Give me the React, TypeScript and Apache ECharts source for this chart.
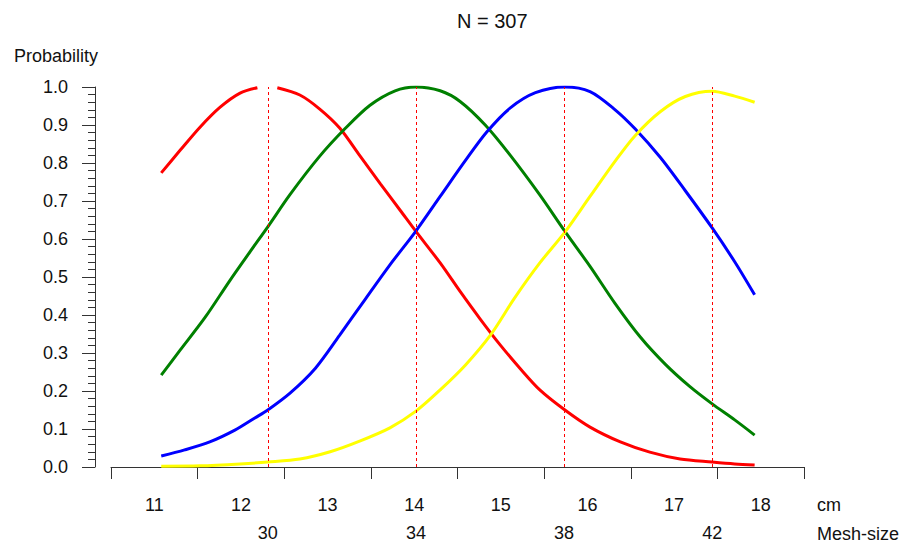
import React, { useEffect, useRef } from "react";
import * as echarts from "echarts";

// ---- data (x in cm, y = retention probability) ----
const cmTickBounds = [10.5, 11.5, 12.5, 13.5, 14.5, 15.5, 16.5, 17.5, 18.5];
const cmLabels = [11, 12, 13, 14, 15, 16, 17, 18];
const meshPeaksCm = [12.31, 14.02, 15.73, 17.44];
const meshSizes = ["30", "34", "38", "42"];
const yTicks = { min: 0, max: 1, interval: 0.1 };
const titleText = "N = 307";

const red30: (number | null)[][] = [
  [11.08, 0.774], [11.3, 0.834], [11.53, 0.895], [11.76, 0.947], [11.99, 0.984], [12.19, 0.998],
  [12.31, null],
  [12.42, 0.998], [12.68, 0.979], [12.91, 0.942], [13.14, 0.892], [13.37, 0.82], [13.61, 0.745],
  [13.84, 0.675], [14.02, 0.62], [14.3, 0.537], [14.53, 0.462], [14.76, 0.39], [14.99, 0.322],
  [15.22, 0.26], [15.45, 0.203], [15.74, 0.15], [16.03, 0.105], [16.38, 0.066], [16.72, 0.039],
  [17.07, 0.021], [17.44, 0.013], [17.7, 0.008], [17.93, 0.005],
];
const green34: number[][] = [
  [11.08, 0.242], [11.3, 0.308], [11.59, 0.395], [11.87, 0.49], [12.11, 0.568], [12.31, 0.632],
  [12.57, 0.718], [12.91, 0.818], [13.2, 0.89], [13.49, 0.952], [13.78, 0.99], [14.02, 1.0],
  [14.3, 0.99], [14.53, 0.962], [14.82, 0.9], [15.11, 0.82], [15.45, 0.716], [15.74, 0.62],
  [16.03, 0.528], [16.32, 0.43], [16.61, 0.342], [16.9, 0.27], [17.18, 0.212], [17.44, 0.166],
  [17.7, 0.124], [17.93, 0.084],
];
const blue38: number[][] = [
  [11.08, 0.029], [11.35, 0.045], [11.64, 0.066], [11.93, 0.097], [12.16, 0.129], [12.31, 0.15],
  [12.57, 0.195], [12.86, 0.26], [13.14, 0.347], [13.43, 0.44], [13.72, 0.532], [14.02, 0.621],
  [14.3, 0.712], [14.59, 0.806], [14.84, 0.882], [15.11, 0.945], [15.4, 0.985], [15.74, 1.0],
  [16.03, 0.988], [16.32, 0.94], [16.55, 0.89], [16.84, 0.815], [17.13, 0.727], [17.44, 0.629],
  [17.7, 0.54], [17.93, 0.453],
];
const yellow42: number[][] = [
  [11.08, 0.002], [11.53, 0.003], [11.99, 0.008], [12.31, 0.013], [12.68, 0.021], [13.03, 0.04],
  [13.37, 0.068], [13.72, 0.103], [14.02, 0.147], [14.3, 0.203], [14.59, 0.268], [14.88, 0.347],
  [15.16, 0.445], [15.45, 0.537], [15.74, 0.618], [16.03, 0.712], [16.32, 0.805], [16.55, 0.872],
  [16.84, 0.935], [17.13, 0.975], [17.44, 0.989], [17.7, 0.976], [17.93, 0.96],
];

const FONT = "'Liberation Sans', Arial, sans-serif";
const AX = "#333";
const TXT = "#111";

export default function App() {
  const ref = useRef<HTMLDivElement>(null);
  useEffect(() => {
    if (!ref.current) return;
    const chart = echarts.init(ref.current, undefined, { renderer: "svg" });
    const lineSeries = (name: string, data: any[], color: string, extra: any = {}) => ({
      type: "line",
      name,
      data,
      xAxisIndex: 0,
      yAxisIndex: 0,
      showSymbol: false,
      smooth: 0.3,
      connectNulls: false,
      lineStyle: { color, width: 3 },
      itemStyle: { color },
      emphasis: { disabled: true },
      z: 3,
      ...extra,
    });
    const dashStyle = { color: "#ff0000", width: 1, type: [3, 3], opacity: 1 };
    chart.setOption({
      animation: false,
      title: {
        text: titleText,
        left: 452,
        top: 6,
        textStyle: { fontFamily: FONT, fontSize: 20, fontWeight: "normal", color: TXT },
      },
      grid: { left: 111, right: 98, top: 87, bottom: 77, containLabel: false },
      xAxis: [
        {
          type: "value",
          min: 10.5,
          max: 18.5,
          position: "bottom",
          axisLine: { show: true, onZero: false, lineStyle: { color: AX, width: 1 } },
          axisTick: { show: true, customValues: cmTickBounds, length: 12, lineStyle: { color: AX } },
          axisLabel: {
            show: true,
            customValues: cmLabels,
            margin: 38,
            verticalAlign: "middle",
            fontFamily: FONT,
            fontSize: 18,
            color: TXT,
            formatter: (v: number) => String(v),
          },
          splitLine: { show: false },
        },
        {
          type: "value",
          min: 10.5,
          max: 18.5,
          position: "bottom",
          axisLine: { show: false },
          axisTick: { show: false },
          axisLabel: {
            show: true,
            customValues: meshPeaksCm,
            margin: 66,
            verticalAlign: "middle",
            fontFamily: FONT,
            fontSize: 18,
            color: TXT,
            formatter: (v: number) => {
              let best = 0;
              meshPeaksCm.forEach((p, i) => {
                if (Math.abs(p - v) < Math.abs(meshPeaksCm[best] - v)) best = i;
              });
              return meshSizes[best];
            },
          },
          splitLine: { show: false },
        },
      ],
      yAxis: {
        type: "value",
        min: yTicks.min,
        max: yTicks.max,
        interval: yTicks.interval,
        offset: 16,
        axisLine: { show: true, lineStyle: { color: AX, width: 1 } },
        axisTick: { show: true, length: 13, lineStyle: { color: AX } },
        minorTick: { show: true, splitNumber: 5, length: 7, lineStyle: { color: AX } },
        axisLabel: {
          margin: 27,
          fontFamily: FONT,
          fontSize: 18,
          color: TXT,
          formatter: (v: number) => v.toFixed(1),
        },
        splitLine: { show: false },
        minorSplitLine: { show: false },
      },
      graphic: [
        {
          type: "text",
          left: 14,
          top: 47,
          style: { text: "Probability", fontFamily: FONT, fontSize: 18, fill: TXT },
        },
        {
          type: "text",
          x: 817,
          y: 505,
          style: { text: "cm", fontFamily: FONT, fontSize: 18, fill: TXT, verticalAlign: "middle" },
        },
        {
          type: "text",
          x: 817,
          y: 533.5,
          style: { text: "Mesh-size", fontFamily: FONT, fontSize: 18, fill: TXT, verticalAlign: "middle" },
        },
      ],
      series: [
        lineSeries("30", red30, "#ff0000", {
          markLine: {
            silent: true,
            symbol: ["none", "none"],
            label: { show: false },
            emphasis: { disabled: true },
            lineStyle: dashStyle,
            data: meshPeaksCm.map((x) => ({ xAxis: x, lineStyle: dashStyle })),
          },
        }),
        lineSeries("34", green34, "#008000"),
        lineSeries("38", blue38, "#0000ff"),
        lineSeries("42", yellow42, "#ffff00"),
      ],
    });
    return () => chart.dispose();
  }, []);
  return (
    <div
      ref={ref}
      style={{ position: "absolute", left: 0, top: 0, width: 902, height: 544, background: "#fff" }}
    />
  );
}
